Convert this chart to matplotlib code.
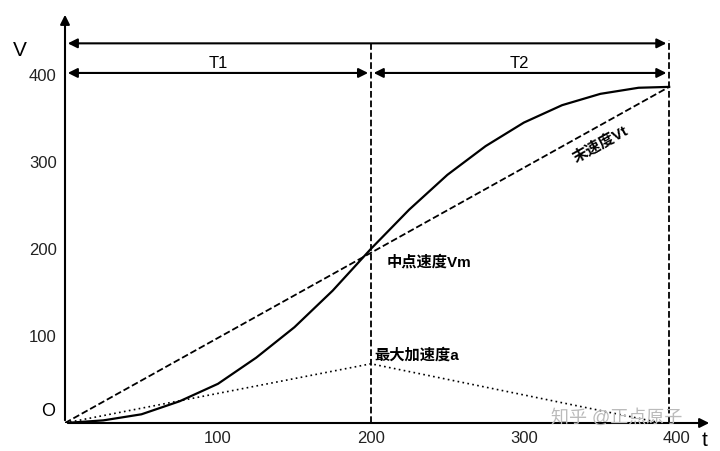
import matplotlib
matplotlib.use("Agg")
import matplotlib.pyplot as plt

plt.rcParams['font.family'] = ['Liberation Sans', 'Noto Sans CJK SC', 'DejaVu Sans']

curve_t = [0, 25, 50, 75, 100, 125, 150, 175, 200, 225, 250, 275, 300, 325, 350, 375, 395]
curve_v = [0, 3, 10, 25, 45, 75, 110, 152, 200, 245, 285, 318, 345, 365, 378, 385, 386]
line_t = [0, 395]
line_v = [0, 386]
acc_t = [0, 200, 390]
acc_v = [0, 68, 0]
xticks = [100, 200, 300, 400]
yticks = [100, 200, 300, 400]
t_mid, t_end = 200, 395

fig = plt.figure(figsize=(7.2, 4.51), dpi=100)
ax = fig.add_axes([65/720, 28/451, 647/720, 411/451])
ax.set_xlim(0, 423)
ax.set_ylim(0, 472)
for s in ['top', 'right', 'left', 'bottom']:
    ax.spines[s].set_visible(False)
ax.set_xticks(xticks)
ax.set_yticks(yticks)
ax.tick_params(length=0, labelsize=12, colors='#222222', pad=6)

ax.plot(curve_t, curve_v, color='black', lw=1.6)
ax.plot(line_t, line_v, color='black', lw=1.3, ls='--')
ax.plot(acc_t, acc_v, color='black', lw=1.2, ls=(0, (1, 2)))
ax.plot([t_mid, t_mid], [0, 435], color='black', lw=1.3, ls='--')
ax.plot([t_end, t_end], [0, 440], color='black', lw=1.3, ls='--')

ap = dict(arrowstyle='-|>', color='black', lw=1.5, mutation_scale=14)
ap2 = dict(arrowstyle='<|-|>', color='black', lw=1.5, mutation_scale=14)
ax.annotate('', xy=(0, 472), xytext=(0, 0), arrowprops=ap, annotation_clip=False)
ax.annotate('', xy=(423, 0), xytext=(0, 0), arrowprops=ap, annotation_clip=False)
ax.annotate('', xy=(0, 436), xytext=(t_end, 436), arrowprops=ap2)
ax.annotate('', xy=(0, 402), xytext=(t_mid, 402), arrowprops=ap2)
ax.annotate('', xy=(t_mid, 402), xytext=(t_end, 402), arrowprops=ap2)
ax.text(100, 404, 'T1', ha='center', va='bottom', fontsize=12)
ax.text(297, 404, 'T2', ha='center', va='bottom', fontsize=12)

fig.text(20/720, 1-50/451, 'V', fontsize=15, ha='center', va='center')
fig.text(705/720, 1-440/451, 't', fontsize=15, ha='center', va='center')
fig.text(48/720, 1-412/451, 'O', fontsize=13, ha='center', va='center')

ax.text(350, 320, '末速度Vt', rotation=29, fontsize=11, fontweight='bold', ha='center', va='center')
ax.text(210, 185, '中点速度Vm', fontsize=11, fontweight='bold', ha='left', va='center')
ax.text(202, 78, '最大加速度a', fontsize=11, fontweight='bold', ha='left', va='center')
fig.text(617/720, 1-418/451, '知乎 @正点原子', fontsize=13, color='#bbbbbb', ha='center', va='center')

fig.savefig('out.png', dpi=100)
